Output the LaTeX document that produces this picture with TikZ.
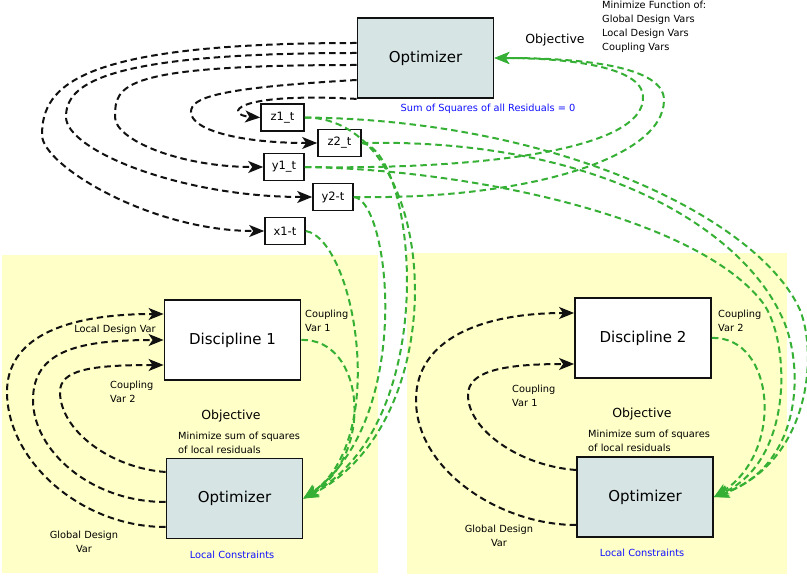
\documentclass[tikz,border=0pt]{standalone}
\usepackage{fontspec}
\setmainfont{DejaVu Sans}
\usetikzlibrary{arrows.meta,calc,positioning}
\definecolor{ink}{HTML}{111111}
\definecolor{optfill}{HTML}{D6E4E4}
\definecolor{zone}{HTML}{FFFFC8}
\definecolor{link}{HTML}{35B035}
\definecolor{note}{HTML}{1010FF}
\tikzset{
  optbox/.style={draw=ink,line width=1.8pt,fill=optfill,minimum width=136pt,minimum height=80pt,font=\fontsize{15}{18}\selectfont},
  discbox/.style={optbox,fill=white},
  tgtbox/.style={draw=ink,line width=1.6pt,fill=white,minimum width=40pt,minimum height=27pt,inner sep=1pt,font=\fontsize{11.5}{13}\selectfont},
  lbl/.style={inner sep=0pt,align=left,font=\fontsize{9.8}{14}\selectfont},
  objlbl/.style={inner sep=0pt,font=\fontsize{12.5}{15}\selectfont},
  notelbl/.style={lbl,text=note},
  blk/.style={->,ink,line width=2pt,dash pattern=on 6.5pt off 4pt},
  grn/.style={->,link,line width=2pt,dash pattern=on 6.5pt off 4pt}
}
\begin{document}
\begin{tikzpicture}[x=1pt,y=-1pt,>={Stealth[length=15pt,width=12pt,inset=4pt]}]
\useasboundingbox (0,0) rectangle (807,577);
\fill[zone] (2,255) rectangle (378,573);
\fill[zone] (407,253) rectangle (787,574);
\node[optbox] (opt) at (425.5,58) {Optimizer};
\node[tgtbox,minimum width=43pt] (zt1) at (282.5,117.5) {z1\_t};
\node[tgtbox,minimum width=43pt] (zt2) at (339.5,143) {z2\_t};
\node[tgtbox] (yt1) at (284,167) {y1\_t};
\node[tgtbox] (yt2) at (333,197) {y2-t};
\node[tgtbox] (xt1) at (285,231) {x1-t};
\node[discbox] (dis1) at (232.5,340) {Discipline 1};
\node[optbox] (opt1) at (234.5,498.5) {Optimizer};
\node[discbox] (dis2) at (643,338) {Discipline 2};
\node[optbox] (opt2) at (645,497) {Optimizer};
\node[objlbl] (objtop) at (555,40) {Objective};
\node[lbl,anchor=west] (mintop) at (602,27) {Minimize Function of:\\Global Design Vars\\Local Design Vars\\Coupling Vars};
\node[notelbl] (sumsq) at (488,109) {Sum of Squares of all Residuals = 0};
\node[objlbl] (obj1) at (231,416) {Objective};
\node[lbl,anchor=west] (min1) at (178,443) {Minimize sum of squares\\of local residuals};
\node[lbl,anchor=west] (cv1) at (305,321) {Coupling\\Var 1};
\node[lbl] (ldv1) at (115,330) {Local Design Var};
\node[lbl,anchor=west] (cv2) at (110,392) {Coupling\\Var 2};
\node[lbl,align=center] (gdv1) at (84,542) {Global Design\\Var};
\node[notelbl] (lc1) at (232,555) {Local Constraints};
\node[objlbl] (obj2) at (642,414) {Objective};
\node[lbl,anchor=west] (min2) at (588,441) {Minimize sum of squares\\of local residuals};
\node[lbl,anchor=west] (cv2b) at (718,321) {Coupling\\Var 2};
\node[lbl,anchor=west] (cv1b) at (512,396) {Coupling\\Var 1};
\node[lbl,align=center] (gdv2) at (499,536) {Global Design\\Var};
\node[notelbl] (lc2) at (642,553) {Local Constraints};
\draw[blk] ($(opt.west)+(0,-15)$) .. controls (80,43) and (42,85) .. (42,135) .. controls (42,165) and (150,231) .. (xt1.west);
\draw[blk] ($(opt.west)+(0,-5)$) .. controls (100,53) and (66,85) .. (66,117) .. controls (66,150) and (180,197) .. (yt2.west);
\draw[blk] ($(opt.west)+(0,7)$) .. controls (120,65) and (115,85) .. (115,117) .. controls (115,140) and (180,167) .. (yt1.west);
\draw[blk] ($(opt.west)+(0,22)$) .. controls (215,88) and (191,98) .. (191,112) .. controls (191,130) and (240,143) .. (zt2.west);
\draw[blk] (opt.south west) .. controls (230,92) and (225,115) .. (zt1.west);
\draw[blk] ($(opt1.west)+(0,-26.5)$) .. controls (110,468) and (60,430) .. (60,392) .. controls (60,370) and (90,365) .. ($(dis1.west)+(0,25)$);
\draw[blk] ($(opt1.west)+(0,3.5)$) .. controls (90,502) and (33,450) .. (33,400) .. controls (33,350) and (80,340) .. (dis1.west);
\draw[blk] ($(opt1.west)+(0,28.5)$) .. controls (80,527) and (7,460) .. (7,392) .. controls (7,340) and (60,314) .. ($(dis1.west)+(0,-26)$);
\draw[blk] ($(opt2.west)+(0,-27)$) .. controls (520,466) and (468,430) .. (468,395) .. controls (468,372) and (500,364) .. ($(dis2.west)+(0,26)$);
\draw[blk] ($(opt2.west)+(0,28)$) .. controls (500,525) and (416,470) .. (416,400) .. controls (416,340) and (480,313) .. ($(dis2.west)+(0,-25)$);
\draw[grn] (dis1.east) .. controls (365,338) and (375,455) .. (opt1.east);
\draw[grn] (dis2.east) .. controls (775,336) and (785,452) .. (opt2.east);
\draw[grn] (xt1.east) .. controls (355,240) and (390,440) .. (opt1.east);
\draw[grn] (yt2.east) .. controls (390,200) and (415,420) .. (opt1.east);
\draw[grn] (zt2.east) .. controls (415,150) and (445,420) .. (opt1.east);
\draw[grn] (zt1.east) .. controls (440,117) and (460,420) .. (opt1.east);
\draw[grn] (zt1.east) .. controls (560,120) and (760,220) .. (800,310) .. controls (818,355) and (810,462) .. (opt2.east);
\draw[grn] (zt2.east) .. controls (600,138) and (740,230) .. (780,313) .. controls (805,360) and (805,465) .. (opt2.east);
\draw[grn] (yt1.east) .. controls (480,170) and (700,220) .. (763,303) .. controls (790,340) and (795,460) .. (opt2.east);
\draw[grn] (yt1.east) .. controls (480,170) and (645,150) .. (643,97) .. controls (643,65) and (560,58) .. (opt.east);
\draw[grn] (yt2.east) .. controls (520,200) and (664,160) .. (664,100) .. controls (664,62) and (560,58) .. (opt.east);
\end{tikzpicture}
\end{document}
